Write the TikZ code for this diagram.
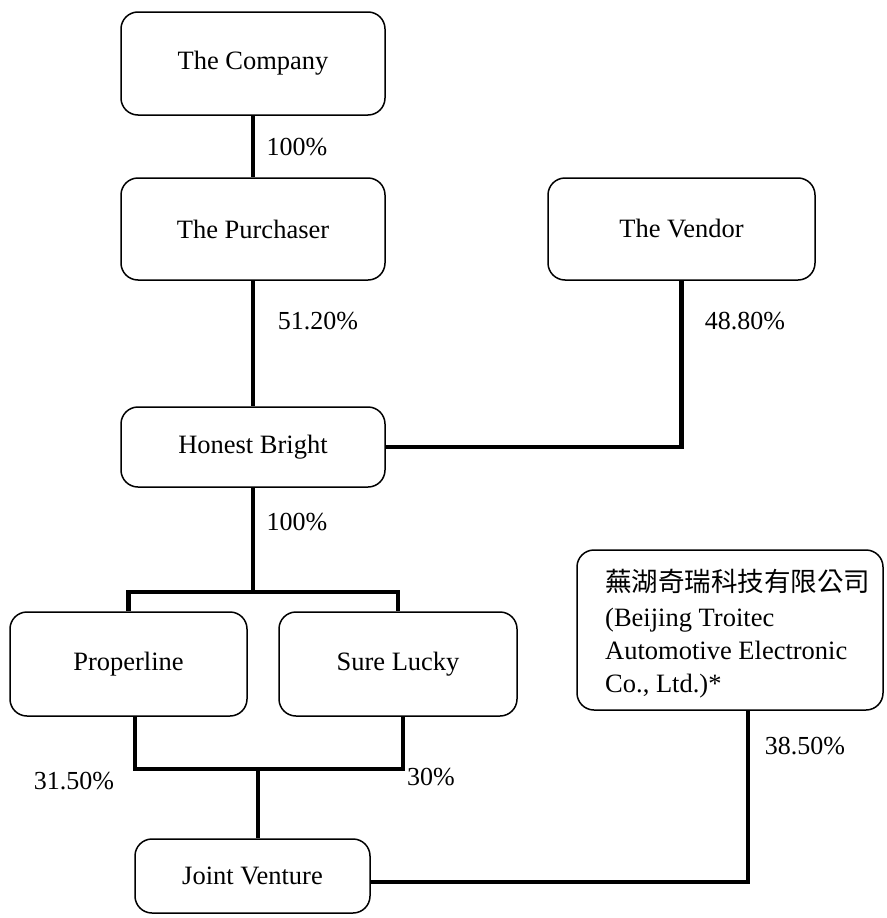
\documentclass[tikz,border=0pt]{standalone}
\usepackage{fontspec}
\setmainfont{Liberation Serif}
\newfontfamily\cjk{Noto Sans CJK TC}
\begin{document}
\begin{tikzpicture}[x=1pt,y=-1pt,
  box/.style={draw,line width=1.5pt,rounded corners=17pt,inner sep=0pt,font=\fontsize{26.5}{30}\selectfont},
  link/.style={line width=4.5pt},
  pct/.style={font=\fontsize{26}{30}\selectfont,inner sep=0pt}]
\useasboundingbox (0,0) rectangle (886,918);
\node[box,minimum width=264pt,minimum height=103pt] (co) at (253,63.5) {The Company};
\node[box,minimum width=264pt,minimum height=102pt] (pu) at (253,229) {The Purchaser};
\node[box,minimum width=267pt,minimum height=102pt] (ve) at (681.5,229) {The Vendor};
\node[box,minimum width=264pt,minimum height=80pt] (hb) at (253,447) {Honest Bright};
\node[box,minimum width=237pt,minimum height=104pt] (pl) at (128.5,664) {Properline};
\node[box,minimum width=238pt,minimum height=104pt] (sl) at (398,664) {Sure Lucky};
\node[box,minimum width=235pt,minimum height=74pt] (jv) at (252.5,876) {Joint Venture};
\node[box,minimum width=306pt,minimum height=160pt] (cn) at (730,630) {};
\node[anchor=north west,align=left,inner sep=0pt,font=\fontsize{26.5}{33}\selectfont] (cnt) at (605,569)
  {{\cjk 蕪湖奇瑞科技有限公司}\\[2pt](Beijing Troitec\\Automotive Electronic\\Co., Ltd.)*};
% connectors
\draw[link] (co.south) -- (pu.north);
\draw[link] (pu.south) -- (hb.north);
\draw[link] (ve.south) |- (hb.east);
\coordinate (br) at (253,592);
\draw[link] (hb.south) -- (br);
\draw[link] (pl.north) |- (br) -| (sl.north);
\coordinate (plb) at (135,716);
\coordinate (slb) at (403,716);
\coordinate (jn) at (258,769);
\draw[link] (plb) |- (jn) -| (slb);
\draw[link] (jn) -- (jn |- jv.north);
\coordinate (cnb) at (748,710);
\coordinate (jve) at (370,882);
\draw[link] (jve) -| (cnb);
% labels
\node[pct] (l1) at (297,147) {100\%};
\node[pct] (l2) at (318,321) {51.20\%};
\node[pct] (l3) at (745,321) {48.80\%};
\node[pct] (l4) at (297,522) {100\%};
\node[pct] (l5) at (74,781) {31.50\%};
\node[pct] (l6) at (431,777) {30\%};
\node[pct] (l7) at (805,746) {38.50\%};
\end{tikzpicture}
\end{document}
